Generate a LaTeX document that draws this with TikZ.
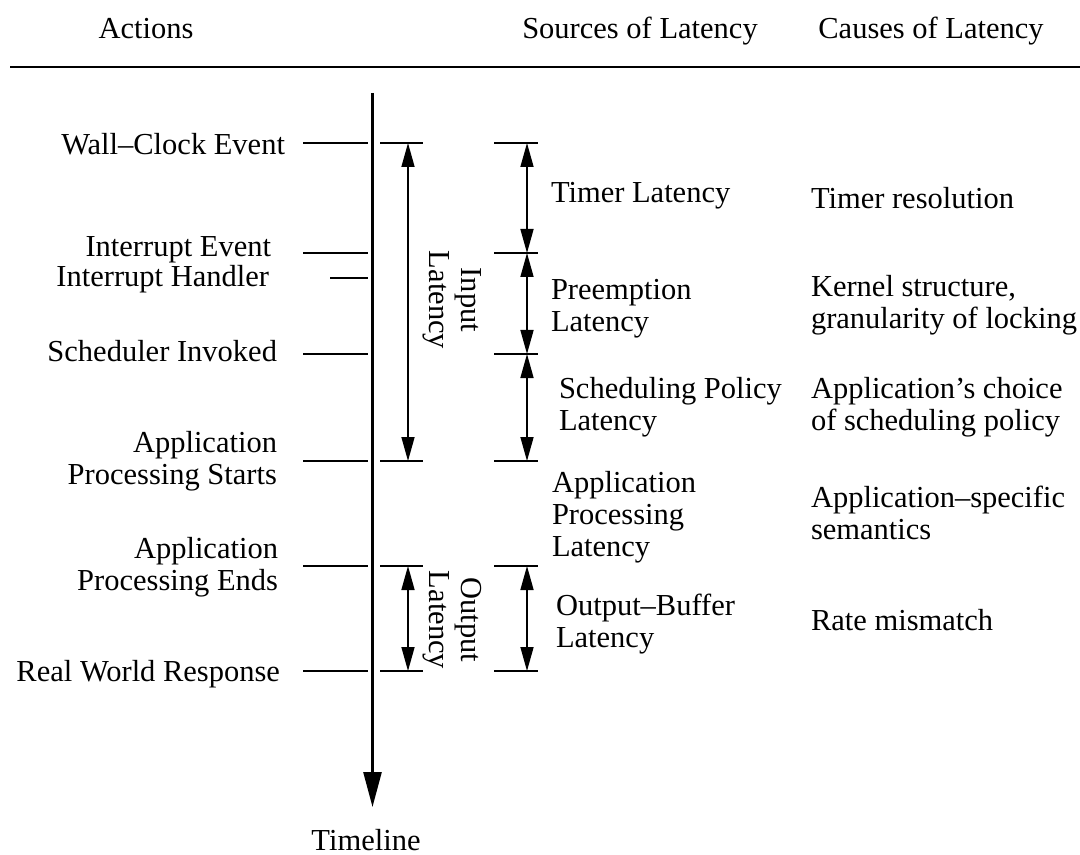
\documentclass[tikz,border=0pt]{standalone}
\usepackage{fontspec}
\setmainfont{Liberation Serif}
\usetikzlibrary{arrows.meta}
\begin{document}
\begin{tikzpicture}[x=0.5pt,y=-0.5pt,
  txt/.style={font=\fontsize{15.25}{16}\selectfont, inner sep=0pt, outer sep=0pt},
  head/.style={txt, anchor=base},
  act/.style={txt, anchor=base east},
  actm/.style={txt, anchor=east, align=right},
  col/.style={txt, anchor=base west},
  colm/.style={txt, anchor=west, align=left},
  vlabel/.style={txt, rotate=-90, align=center},
  tick/.style={line width=1pt},
  rule/.style={line width=1.4pt},
  axis/.style={line width=1.3pt, -{Triangle[length=17.5pt,width=9pt]}},
  span/.style={line width=0.8pt, {Triangle[length=12pt,width=6.5pt]}-{Triangle[length=12pt,width=6.5pt]}}]
\useasboundingbox (0,0) rectangle (1080,855);

% column headings and rule
\node[head] (h-act) at (146,39) {Actions};
\node[head] (h-src) at (640,39) {Sources of Latency};
\node[head] (h-cau) at (931,39) {Causes of Latency};
\coordinate (rule-l) at (10,67);
\coordinate (rule-r) at (1080,67);
\draw[rule] (rule-l) -- (rule-r);

% timeline axis
\coordinate (tl-top) at (372.5,93);
\coordinate (tl-end) at (372.5,807);
\draw[axis] (tl-top) -- (tl-end);
\node[head] (timeline) at (366,850) {Timeline};

% tick positions of every event level
\foreach \n/\yy in {wc/143,ie/253,ih/278,si/354,ps/461,pe/566,rw/671}{
  \coordinate (\n-a0) at (303,\yy);
  \coordinate (\n-a1) at (368,\yy);
  \coordinate (\n-b0) at (380,\yy);
  \coordinate (\n-b1) at (423,\yy);
  \coordinate (\n-b)  at (408,\yy);
  \coordinate (\n-c0) at (494,\yy);
  \coordinate (\n-c1) at (538,\yy);
  \coordinate (\n-c)  at (527,\yy);
}
\coordinate (ih-a0) at (330,278);

% ticks left of the axis
\foreach \n in {wc,ie,ih,si,ps,pe,rw}{
  \draw[tick] (\n-a0) -- (\n-a1);
}
% ticks right of the axis (input / output latency)
\foreach \n in {wc,ps,pe,rw}{
  \draw[tick] (\n-b0) -- (\n-b1);
}
% ticks of the latency sources
\foreach \n in {wc,ie,si,ps,pe,rw}{
  \draw[tick] (\n-c0) -- (\n-c1);
}

% input and output latency spans
\draw[span] (wc-b) -- (ps-b);
\draw[span] (pe-b) -- (rw-b);
\node[vlabel] (inlat) at (452,300) {Input\\Latency};
\node[vlabel] (outlat) at (452,620) {Output\\Latency};

% source spans
\draw[span] (wc-c) -- (ie-c);
\draw[span] (ie-c) -- (si-c);
\draw[span] (si-c) -- (ps-c);
\draw[span] (pe-c) -- (rw-c);

% actions
\node[act] (a-wc) at (285,155) {Wall–Clock Event};
\node[act] (a-ie) at (271,257) {Interrupt Event};
\node[act] (a-ih) at (269,287) {Interrupt Handler};
\node[act] (a-si) at (277,361) {Scheduler Invoked};
\node[actm] (a-ps) at (277,461) {Application\\Processing Starts};
\node[actm] (a-pe) at (278,567) {Application\\Processing Ends};
\node[act] (a-rw) at (280,681) {Real World Response};

% sources of latency
\node[col] (s-tim) at (551,203) {Timer Latency};
\node[colm] (s-pre) at (551,309) {Preemption\\Latency};
\node[colm] (s-sch) at (559,407) {Scheduling Policy\\Latency};
\node[colm] (s-app) at (552,517) {Application\\Processing\\Latency};
\node[colm] (s-out) at (556,624) {Output–Buffer\\Latency};

% causes of latency
\node[col] (c-tim) at (811,209) {Timer resolution};
\node[colm] (c-pre) at (811,305) {Kernel structure,\\granularity of locking};
\node[colm] (c-sch) at (811,407) {Application’s choice\\of scheduling policy};
\node[colm] (c-app) at (811,513) {Application–specific\\semantics};
\node[col] (c-out) at (811,630) {Rate mismatch};
\end{tikzpicture}
\end{document}
